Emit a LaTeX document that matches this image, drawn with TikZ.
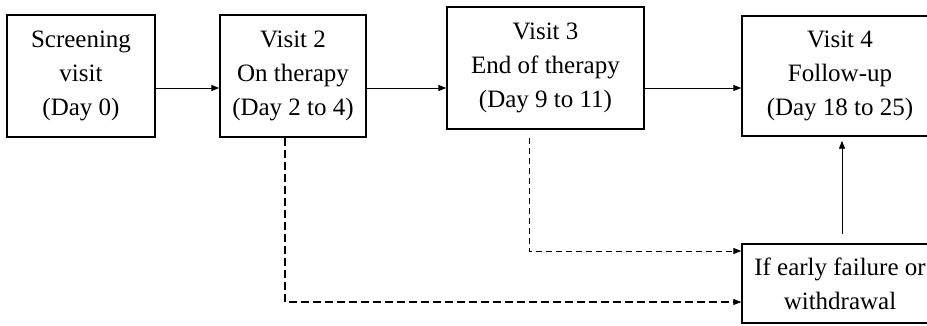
\documentclass[tikz,border=0pt]{standalone}
\usepackage{fontspec}
\setmainfont{Liberation Serif}
\usetikzlibrary{arrows.meta}
\begin{document}
\begin{tikzpicture}[x=1pt,y=1pt,
  box/.style={draw,line width=1.4pt,align=center,inner sep=0pt,
    font=\fontsize{25}{34}\selectfont},
  arr/.style={line width=0.9pt,-{Triangle[length=8pt,width=6pt]}},
  thindash/.style={line width=1pt,dash pattern=on 6pt off 4pt,-{Triangle[length=8pt,width=6pt]}},
  thickdash/.style={line width=2.4pt,dash pattern=on 8pt off 4pt,-{Triangle[length=8pt,width=6pt,line width=0.5pt]}}]
\useasboundingbox (0,0) rectangle (927,325);
\fill[white] (0,0) rectangle (927,325);
\clip (0,0) rectangle (927,325);
\node[box,minimum width=148pt,minimum height=122pt] (b1) at (81,249) {Screening\\visit\\(Day 0)};
\node[box,minimum width=146pt,minimum height=122pt] (b2) at (293,249) {Visit 2\\On therapy\\(Day 2 to 4)};
\node[box,minimum width=197pt,minimum height=122pt] (b3) at (545.5,257) {Visit 3\\End of therapy\\(Day 9 to 11)};
\node[box,minimum width=196pt,minimum height=120pt] (b4) at (840,249) {Visit 4\\Follow-up\\(Day 18 to 25)};
\node[box,minimum width=196pt,minimum height=79pt] (b5) at (840,41.5) {If early failure or\\withdrawal};
\draw[arr] ([yshift=-12pt]b1.east) -- ([yshift=-12pt]b2.west);
\draw[arr] ([yshift=-12pt]b2.east) -- ([yshift=-20pt]b3.west);
\draw[arr] ([yshift=-20pt]b3.east) -- ([yshift=-12pt]b4.west);
\draw[thindash] ([xshift=-16.5pt,yshift=-8pt]b3.south) |- ([yshift=32.5pt]b5.west);
\draw[thickdash] ([xshift=-8pt]b2.south) |- ([yshift=-18.5pt]b5.west);
\draw[arr,shorten >=4pt] ([xshift=2pt,yshift=9pt]b5.north) -- ([xshift=2pt]b4.south);
\end{tikzpicture}
\end{document}
